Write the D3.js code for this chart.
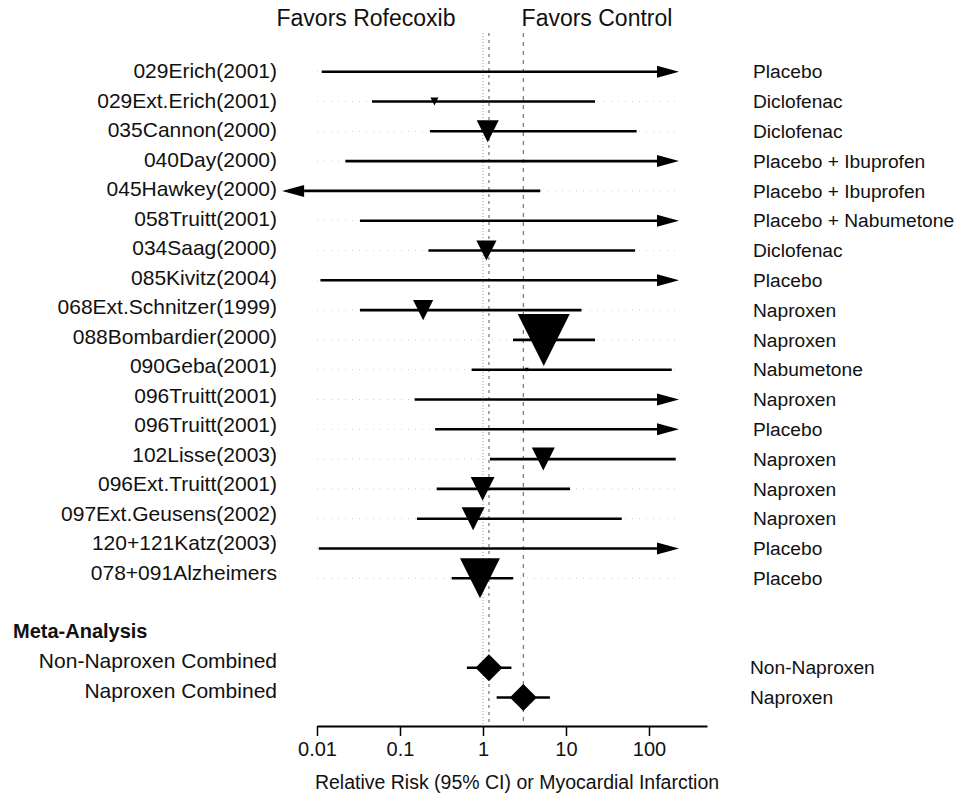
<!DOCTYPE html>
<html>
<head>
<meta charset="utf-8">
<script src="https://cdn.jsdelivr.net/npm/d3@7"></script>
<style>
  body { margin: 0; background: #fff; }
  text { font-family: "Liberation Sans", Arial, Helvetica, sans-serif; fill: #111; }
</style>
</head>
<body>
<div id="chart"></div>
<script>
// trials, one row each
const studies = [
  "029Erich(2001)", "029Ext.Erich(2001)", "035Cannon(2000)", "040Day(2000)",
  "045Hawkey(2000)", "058Truitt(2001)", "034Saag(2000)", "085Kivitz(2004)",
  "068Ext.Schnitzer(1999)", "088Bombardier(2000)", "090Geba(2001)", "096Truitt(2001)",
  "096Truitt(2001)", "102Lisse(2003)", "096Ext.Truitt(2001)", "097Ext.Geusens(2002)",
  "120+121Katz(2003)", "078+091Alzheimers"
];
const controls = [
  "Placebo", "Diclofenac", "Diclofenac", "Placebo + Ibuprofen",
  "Placebo + Ibuprofen", "Placebo + Nabumetone", "Diclofenac", "Placebo",
  "Naproxen", "Naproxen", "Nabumetone", "Naproxen",
  "Placebo", "Naproxen", "Naproxen", "Naproxen",
  "Placebo", "Placebo"
];
// relative risk and 95% CI; null = not estimable / off the scale (drawn as arrow)
const estimate = [null, 0.26, 1.14, null, null, null, 1.10, null, 0.19, 5.4, 3.36, null, null, 5.33, 0.99, 0.76, null, 0.92];
const lower    = [0.0114, 0.046, 0.23, 0.022, null, 0.033, 0.22, 0.011, 0.033, 2.3, 0.73, 0.15, 0.265, 1.21, 0.277, 0.16, 0.0105, 0.42];
const upper    = [null, 22.4, 71, null, 4.9, null, 68, null, 15.4, 22.4, 188, null, null, 210, 11.2, 47, null, 2.31];
// relative study weight (marker area)
const weight   = [0, 2.4, 18, 0, 0, 0, 15, 0, 15, 100, 0.6, 0, 0, 19.6, 21, 19.6, 0, 59];

// pooled estimates
const pooledLabels   = ["Non-Naproxen Combined", "Naproxen Combined"];
const pooledControls = ["Non-Naproxen", "Naproxen"];
const pooledEst      = [1.18, 3.06];
const pooledLower    = [0.64, 1.46];
const pooledUpper    = [2.2, 6.4];

const tickValues = [0.01, 0.1, 1, 10, 100];

const width = 969, height = 797;
const svg = d3.select("#chart").append("svg")
  .attr("width", width)
  .attr("height", height);

const x = d3.scaleLog().domain([0.01, 500]).range([317, 707]);
const clipLow = 0.0038, clipHigh = 230;
// row index -> y ; meta rows sit at 20 and 21
const y = d3.scaleLinear().domain([0, 21]).range([71.7, 697.5]);
const yLabel = d3.scaleLinear().domain([0, 21]).range([70.8, 690.5]);
const size = d3.scaleSqrt().domain([0, 100]).range([0, 52]);

const rows = studies.map((s, i) => ({
  name: s, control: controls[i], est: estimate[i], lo: lower[i], hi: upper[i], w: weight[i], row: i
}));
const pooled = pooledLabels.map((s, i) => ({
  name: s, control: pooledControls[i], est: pooledEst[i], lo: pooledLower[i], hi: pooledUpper[i], row: 20 + i
}));
const all = rows.concat(pooled);

// faint dotted leaders
svg.append("g").selectAll("line").data(rows).join("line")
  .attr("x1", x(0.01)).attr("x2", x(clipHigh))
  .attr("y1", d => y(d.row)).attr("y2", d => y(d.row))
  .attr("stroke", "#cfcfcf").attr("stroke-width", 1)
  .attr("stroke-dasharray", "1,6");

// reference lines
const refs = [
  { v: 1, color: "#9a9a9a", dash: "1,2" },
  { v: pooledEst[0], color: "#555", dash: "3,4" },
  { v: pooledEst[1], color: "#555", dash: "4,5" }
];
svg.append("g").selectAll("line").data(refs).join("line")
  .attr("x1", d => x(d.v)).attr("x2", d => x(d.v))
  .attr("y1", 33).attr("y2", 726)
  .attr("stroke", d => d.color).attr("stroke-width", 1)
  .attr("stroke-dasharray", d => d.dash);

// CI lines
const ci = svg.append("g");
const arrowLen = 22, arrowHalf = 6;
all.forEach(d => {
  const yy = y(d.row);
  let x1 = d.lo == null ? x(clipLow) + arrowLen : x(d.lo);
  let x2 = d.hi == null ? x(clipHigh) - arrowLen : x(d.hi);
  ci.append("line")
    .attr("x1", x1).attr("x2", x2).attr("y1", yy).attr("y2", yy)
    .attr("stroke", "#000").attr("stroke-width", 2.6);
  if (d.hi == null) {
    const t = x(clipHigh);
    ci.append("path")
      .attr("d", `M${t},${yy}L${t - arrowLen},${yy - arrowHalf}L${t - arrowLen},${yy + arrowHalf}Z`)
      .attr("fill", "#000");
  }
  if (d.lo == null) {
    const t = x(clipLow);
    ci.append("path")
      .attr("d", `M${t},${yy}L${t + arrowLen},${yy - arrowHalf}L${t + arrowLen},${yy + arrowHalf}Z`)
      .attr("fill", "#000");
  }
});

// study markers: inverted triangles
svg.append("g").selectAll("path").data(rows.filter(d => d.est != null && d.w > 0)).join("path")
  .attr("d", d => {
    const cx = x(d.est), cy = y(d.row), s = Math.max(size(d.w), 4);
    return `M${cx - s / 2},${cy - s / 2}L${cx + s / 2},${cy - s / 2}L${cx},${cy + s / 2}Z`;
  })
  .attr("fill", "#000");

// pooled markers: diamonds
svg.append("g").selectAll("path").data(pooled).join("path")
  .attr("d", d => {
    const cx = x(d.est), cy = y(d.row), h = 13.5;
    return `M${cx},${cy - h}L${cx + h},${cy}L${cx},${cy + h}L${cx - h},${cy}Z`;
  })
  .attr("fill", "#000");

// left labels
svg.append("g").selectAll("text").data(all).join("text")
  .attr("x", 277).attr("y", d => yLabel(d.row))
  .attr("dy", "0.35em")
  .attr("text-anchor", "end")
  .attr("font-size", 21)
  .text(d => d.name);

svg.append("text")
  .attr("x", 13).attr("y", yLabel(19))
  .attr("dy", "0.35em")
  .attr("font-size", 20).attr("font-weight", "bold")
  .text("Meta-Analysis");

// right labels
svg.append("g").selectAll("text").data(all).join("text")
  .attr("x", d => d.row >= 20 ? 750 : 753).attr("y", d => y(d.row))
  .attr("dy", "0.35em")
  .attr("font-size", 19.2)
  .text(d => d.control);

// header
svg.append("text").attr("x", 366).attr("y", 26)
  .attr("text-anchor", "middle").attr("font-size", 23)
  .text("Favors Rofecoxib");
svg.append("text").attr("x", 597).attr("y", 26)
  .attr("text-anchor", "middle").attr("font-size", 23)
  .text("Favors Control");

// axis
const axis = d3.axisBottom(x)
  .tickValues(tickValues)
  .tickFormat(d => String(d))
  .tickSize(10)
  .tickSizeOuter(0)
  .tickPadding(6);
const ax = svg.append("g")
  .attr("transform", "translate(0,726)")
  .call(axis);
ax.select(".domain").attr("stroke", "#000").attr("stroke-width", 2.2);
ax.selectAll(".tick line").attr("stroke", "#000").attr("stroke-width", 1.5);
ax.selectAll(".tick text")
  .attr("font-size", 20)
  .attr("font-family", "'Liberation Sans', Arial, sans-serif")
  .attr("fill", "#111");

svg.append("text")
  .attr("x", 517).attr("y", 789)
  .attr("text-anchor", "middle").attr("font-size", 19.5)
  .text("Relative Risk (95% CI) or Myocardial Infarction");
</script>
</body>
</html>
